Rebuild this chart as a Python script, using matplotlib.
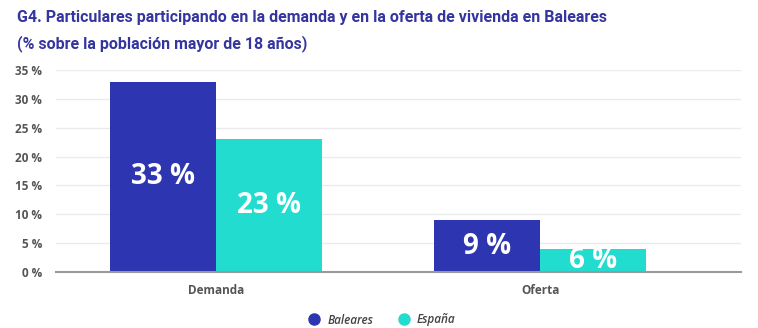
import numpy as np
import matplotlib.pyplot as plt
from matplotlib.lines import Line2D

categories = ['Demanda', 'Oferta']
baleares = [33, 9]
espana = [23, 4]
baleares_labels = ['33 %', '9 %']
espana_labels = ['23 %', '6 %']
yticks = [0, 5, 10, 15, 20, 25, 30, 35]
series_names = ['Baleares', 'España']

col_bal = '#2e35b0'
col_esp = '#22dccf'
grey = '#555555'

fig = plt.figure(figsize=(7.58, 3.28), dpi=100)
ax = fig.add_axes([56/758, 1-272/328, (741-56)/758, 202/328])

x = np.arange(len(categories))
w = 106/324
b1 = ax.bar(x - w/2, baleares, w, color=col_bal, zorder=3)
b2 = ax.bar(x + w/2, espana, w, color=col_esp, zorder=3)

for bars, labs in [(b1, baleares_labels), (b2, espana_labels)]:
    for rect, lab in zip(bars, labs):
        ax.text(rect.get_x() + rect.get_width()/2, rect.get_height()/2, lab,
                ha='center', va='center', color='white', fontsize=20,
                fontweight='bold', family='Open Sans', zorder=4)

ax.set_xlim(-0.494, 1.62)
ax.set_ylim(0, 35)
ax.set_yticks(yticks)
ax.set_yticklabels([f'{t} %' for t in yticks], fontsize=8.5, fontweight='bold',
                   color=grey, family='Open Sans')
ax.set_xticks(x)
ax.set_xticklabels(categories, fontsize=8.5, fontweight='bold', color=grey,
                   family='Open Sans')
ax.tick_params(length=0)
ax.tick_params(axis='x', pad=9)
ax.tick_params(axis='y', pad=10)
ax.grid(axis='y', color='#ebebeb', linewidth=1, zorder=0)
for s in ['top', 'right', 'left']:
    ax.spines[s].set_visible(False)
ax.spines['bottom'].set_color('#999999')
ax.spines['bottom'].set_linewidth(1.5)
ax.spines['bottom'].set_zorder(5)

fig.text(17/758, 1-10/328,
         'G4. Particulares participando en la demanda y en la oferta de vivienda en Baleares\n(% sobre la población mayor de 18 años)',
         ha='left', va='top', fontsize=11.5, color='#3535a0', fontweight='bold',
         family='Roboto', linespacing=1.75)

handles = [Line2D([], [], marker='o', linestyle='', markersize=8, color=c)
           for c in [col_bal, col_esp]]
leg = fig.legend(handles, series_names, loc='center', bbox_to_anchor=(0.5, 1-320/328),
                 ncol=2, frameon=False, handletextpad=0.1, columnspacing=1.6,
                 prop={'size': 8.5, 'style': 'italic', 'weight': 'semibold',
                       'family': 'Open Sans'})
for t in leg.get_texts():
    t.set_color('#444444')

fig.savefig('out.png', dpi=100)
